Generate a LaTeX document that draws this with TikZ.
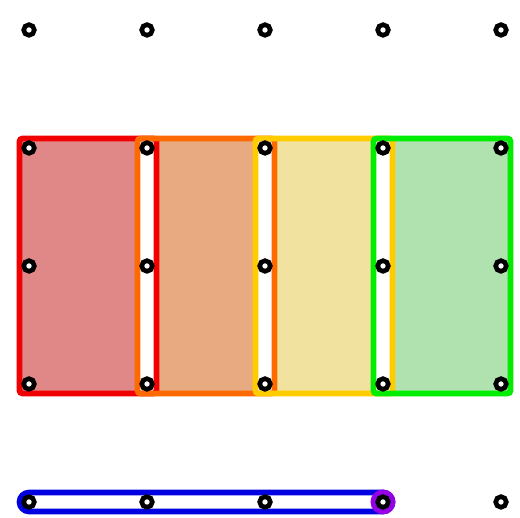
\documentclass[tikz,border=0pt]{standalone}
\usepackage{tikz}
\usetikzlibrary{calc}
\usepackage{tkz-euclide}
\usepackage{xcolor}

\definecolor{bandred}{RGB}{240,0,0}
\definecolor{bandorange}{RGB}{255,106,0}
\definecolor{bandyellow}{RGB}{255,204,0}
\definecolor{bandgreen}{RGB}{0,236,0}
\definecolor{bandblue}{RGB}{0,0,224}
\definecolor{pegpurple}{RGB}{150,0,230}
\definecolor{fillred}{RGB}{224,136,136}
\definecolor{fillorange}{RGB}{232,170,128}
\definecolor{fillyellow}{RGB}{242,226,160}
\definecolor{fillgreen}{RGB}{176,226,176}

\begin{document}
\begin{tikzpicture}[x=2.95cm, y=2.95cm,
        band/.style={line width=4.1pt, rounded corners=2pt},
        peg/.style={draw=black, fill=white, line width=3.3pt}]
            \useasboundingbox (-0.2458,-0.1356) rectangle (4.161,4.2542);
            \tkzDefPoints{0/4/A1, 1/4/B1, 2/4/C1, 3/4/D1, 4/4/E1,
                          0/3/A2, 1/3/B2, 2/3/C2, 3/3/D2, 4/3/E2,
                          0/2/A3, 1/2/B3, 2/2/C3, 3/2/D3, 4/2/E3,
                          0/1/A4, 1/1/B4, 2/1/C4, 3/1/D4, 4/1/E4,
                          0/0/A5, 1/0/B5, 2/0/C5, 3/0/D5, 4/0/E5}
            \def\d{0.08}
            \fill[fillred] ($(A2)+(-\d,\d)$) rectangle ($(B4)+(\d,-\d)$);
            \fill[fillorange] ($(B2)+(-\d,\d)$) rectangle ($(C4)+(\d,-\d)$);
            \fill[fillyellow] ($(C2)+(-\d,\d)$) rectangle ($(D4)+(\d,-\d)$);
            \fill[fillgreen] ($(D2)+(-\d,\d)$) rectangle ($(E4)+(\d,-\d)$);
            \fill[white] ($(B2)+(-0.06,\d)$) rectangle ($(B4)+(0.06,-\d)$);
            \fill[white] ($(C2)+(-0.06,\d)$) rectangle ($(C4)+(0.06,-\d)$);
            \fill[white] ($(D2)+(-0.06,\d)$) rectangle ($(D4)+(0.06,-\d)$);
            \draw[band, bandred] ($(A2)+(-\d,\d)$) rectangle ($(B4)+(\d,-\d)$);
            \draw[band, bandorange] ($(B2)+(-\d,\d)$) rectangle ($(C4)+(\d,-\d)$);
            \draw[band, bandyellow] ($(C2)+(-\d,\d)$) rectangle ($(D4)+(\d,-\d)$);
            \draw[band, bandgreen] ($(D2)+(-\d,\d)$) rectangle ($(E4)+(\d,-\d)$);
            \draw[band, bandblue, rounded corners=0.236cm] ($(A5)+(-\d,\d)$) rectangle ($(D5)+(\d,-\d)$);
            \fill[pegpurple] (D5) circle (0.106);
            \foreach \p in {A,B,C,D,E}
                \foreach \r in {1,...,5}
                    \draw[peg] (\p\r) circle (0.045);
        \end{tikzpicture}
\end{document}
